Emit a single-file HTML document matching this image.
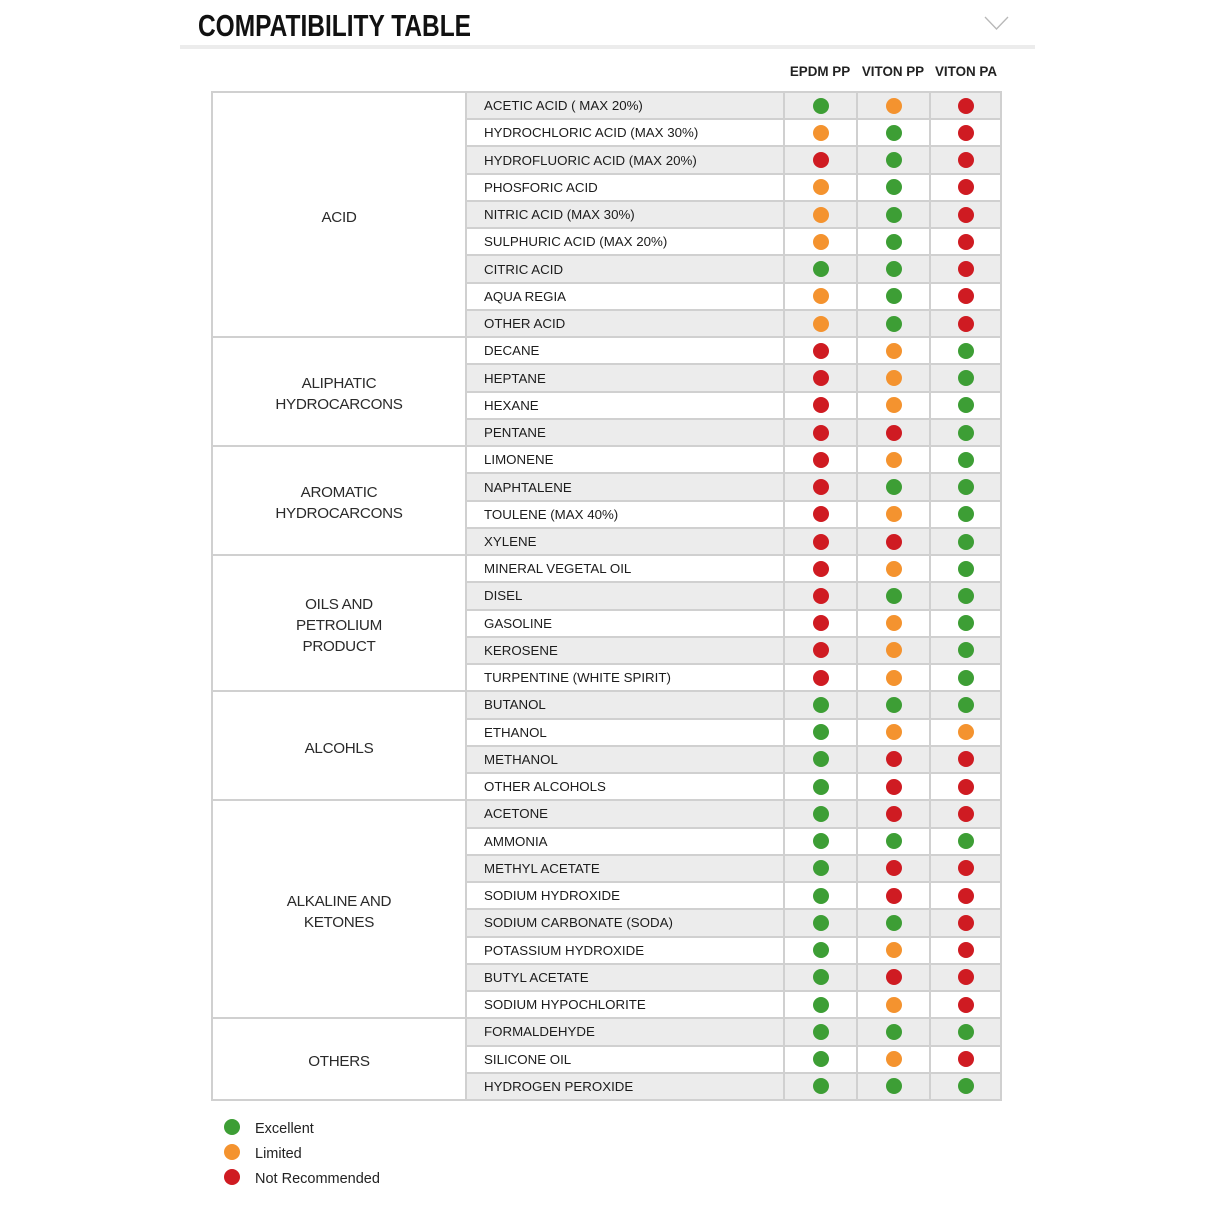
<!DOCTYPE html>
<html>
<head>
<meta charset="utf-8">
<style>
  html,body{margin:0;padding:0;background:#fff;}
  body{width:1214px;height:1214px;position:relative;overflow:hidden;font-family:"Liberation Sans",Arial,sans-serif;color:#222;}
  .title{position:absolute;left:198px;top:8px;font-size:31px;font-weight:bold;color:#111;transform:scaleX(0.79);transform-origin:0 0;white-space:nowrap;letter-spacing:0;}
  .hline{position:absolute;left:180px;top:45px;width:855px;height:4px;background:#ececec;}
  .chev{position:absolute;left:0;top:0;}
  .ch{position:absolute;top:64px;font-size:13.4px;font-weight:bold;color:#222;width:80px;text-align:center;line-height:16px;}
  .grid{position:absolute;left:211px;top:91px;width:791px;height:1010px;box-sizing:border-box;padding:2px;background:#d0d0d0;display:grid;grid-template-columns:252px 316px 71px 71px 69px;grid-template-rows:repeat(37,1fr);gap:2px;}
  .grid>div{background:#fff;display:flex;align-items:center;}
  .grid>div.g{background:#ececec;}
  .c{grid-column:1;justify-content:center;text-align:center;font-size:15.2px;letter-spacing:-0.3px;line-height:21px;color:#2a2a2a;padding-top:5px;box-sizing:border-box;}
  .n{padding-left:17px;font-size:13.3px;color:#1c1c1c;white-space:nowrap;}
  .d{justify-content:center;}
  .d i{display:block;width:16px;height:16px;border-radius:50%;}
  i.G{background:#3d9e35;}
  i.O{background:#f4932f;}
  i.R{background:#cf1b22;}
  .leg{position:absolute;left:224px;width:16px;height:16px;border-radius:50%;}
  .lt{position:absolute;left:255px;font-size:14.5px;color:#222;line-height:18px;}
</style>
</head>
<body>
<div class="title">COMPATIBILITY TABLE</div>
<div class="hline"></div>
<svg class="chev" width="1214" height="60"><polyline points="985,17 996.5,29 1008,17" fill="none" stroke="#b8b8b8" stroke-width="1.3"/></svg>
<div class="ch" style="left:780px;">EPDM PP</div>
<div class="ch" style="left:853px;">VITON PP</div>
<div class="ch" style="left:926px;">VITON PA</div>

<div class="grid">
  <div class="c" style="grid-row:1/span 9;">ACID</div>
  <div class="c" style="grid-row:10/span 4;">ALIPHATIC<br>HYDROCARCONS</div>
  <div class="c" style="grid-row:14/span 4;">AROMATIC<br>HYDROCARCONS</div>
  <div class="c" style="grid-row:18/span 5;">OILS AND<br>PETROLIUM<br>PRODUCT</div>
  <div class="c" style="grid-row:23/span 4;">ALCOHLS</div>
  <div class="c" style="grid-row:27/span 8;">ALKALINE AND<br>KETONES</div>
  <div class="c" style="grid-row:35/span 3;">OTHERS</div>

  <div class="n g">ACETIC ACID ( MAX 20%)</div><div class="d g"><i class="G"></i></div><div class="d g"><i class="O"></i></div><div class="d g"><i class="R"></i></div>
  <div class="n">HYDROCHLORIC ACID (MAX 30%)</div><div class="d"><i class="O"></i></div><div class="d"><i class="G"></i></div><div class="d"><i class="R"></i></div>
  <div class="n g">HYDROFLUORIC ACID (MAX 20%)</div><div class="d g"><i class="R"></i></div><div class="d g"><i class="G"></i></div><div class="d g"><i class="R"></i></div>
  <div class="n">PHOSFORIC ACID</div><div class="d"><i class="O"></i></div><div class="d"><i class="G"></i></div><div class="d"><i class="R"></i></div>
  <div class="n g">NITRIC ACID (MAX 30%)</div><div class="d g"><i class="O"></i></div><div class="d g"><i class="G"></i></div><div class="d g"><i class="R"></i></div>
  <div class="n">SULPHURIC ACID (MAX 20%)</div><div class="d"><i class="O"></i></div><div class="d"><i class="G"></i></div><div class="d"><i class="R"></i></div>
  <div class="n g">CITRIC ACID</div><div class="d g"><i class="G"></i></div><div class="d g"><i class="G"></i></div><div class="d g"><i class="R"></i></div>
  <div class="n">AQUA REGIA</div><div class="d"><i class="O"></i></div><div class="d"><i class="G"></i></div><div class="d"><i class="R"></i></div>
  <div class="n g">OTHER ACID</div><div class="d g"><i class="O"></i></div><div class="d g"><i class="G"></i></div><div class="d g"><i class="R"></i></div>
  <div class="n">DECANE</div><div class="d"><i class="R"></i></div><div class="d"><i class="O"></i></div><div class="d"><i class="G"></i></div>
  <div class="n g">HEPTANE</div><div class="d g"><i class="R"></i></div><div class="d g"><i class="O"></i></div><div class="d g"><i class="G"></i></div>
  <div class="n">HEXANE</div><div class="d"><i class="R"></i></div><div class="d"><i class="O"></i></div><div class="d"><i class="G"></i></div>
  <div class="n g">PENTANE</div><div class="d g"><i class="R"></i></div><div class="d g"><i class="R"></i></div><div class="d g"><i class="G"></i></div>
  <div class="n">LIMONENE</div><div class="d"><i class="R"></i></div><div class="d"><i class="O"></i></div><div class="d"><i class="G"></i></div>
  <div class="n g">NAPHTALENE</div><div class="d g"><i class="R"></i></div><div class="d g"><i class="G"></i></div><div class="d g"><i class="G"></i></div>
  <div class="n">TOULENE (MAX 40%)</div><div class="d"><i class="R"></i></div><div class="d"><i class="O"></i></div><div class="d"><i class="G"></i></div>
  <div class="n g">XYLENE</div><div class="d g"><i class="R"></i></div><div class="d g"><i class="R"></i></div><div class="d g"><i class="G"></i></div>
  <div class="n">MINERAL VEGETAL OIL</div><div class="d"><i class="R"></i></div><div class="d"><i class="O"></i></div><div class="d"><i class="G"></i></div>
  <div class="n g">DISEL</div><div class="d g"><i class="R"></i></div><div class="d g"><i class="G"></i></div><div class="d g"><i class="G"></i></div>
  <div class="n">GASOLINE</div><div class="d"><i class="R"></i></div><div class="d"><i class="O"></i></div><div class="d"><i class="G"></i></div>
  <div class="n g">KEROSENE</div><div class="d g"><i class="R"></i></div><div class="d g"><i class="O"></i></div><div class="d g"><i class="G"></i></div>
  <div class="n">TURPENTINE (WHITE SPIRIT)</div><div class="d"><i class="R"></i></div><div class="d"><i class="O"></i></div><div class="d"><i class="G"></i></div>
  <div class="n g">BUTANOL</div><div class="d g"><i class="G"></i></div><div class="d g"><i class="G"></i></div><div class="d g"><i class="G"></i></div>
  <div class="n">ETHANOL</div><div class="d"><i class="G"></i></div><div class="d"><i class="O"></i></div><div class="d"><i class="O"></i></div>
  <div class="n g">METHANOL</div><div class="d g"><i class="G"></i></div><div class="d g"><i class="R"></i></div><div class="d g"><i class="R"></i></div>
  <div class="n">OTHER ALCOHOLS</div><div class="d"><i class="G"></i></div><div class="d"><i class="R"></i></div><div class="d"><i class="R"></i></div>
  <div class="n g">ACETONE</div><div class="d g"><i class="G"></i></div><div class="d g"><i class="R"></i></div><div class="d g"><i class="R"></i></div>
  <div class="n">AMMONIA</div><div class="d"><i class="G"></i></div><div class="d"><i class="G"></i></div><div class="d"><i class="G"></i></div>
  <div class="n g">METHYL ACETATE</div><div class="d g"><i class="G"></i></div><div class="d g"><i class="R"></i></div><div class="d g"><i class="R"></i></div>
  <div class="n">SODIUM HYDROXIDE</div><div class="d"><i class="G"></i></div><div class="d"><i class="R"></i></div><div class="d"><i class="R"></i></div>
  <div class="n g">SODIUM CARBONATE (SODA)</div><div class="d g"><i class="G"></i></div><div class="d g"><i class="G"></i></div><div class="d g"><i class="R"></i></div>
  <div class="n">POTASSIUM HYDROXIDE</div><div class="d"><i class="G"></i></div><div class="d"><i class="O"></i></div><div class="d"><i class="R"></i></div>
  <div class="n g">BUTYL ACETATE</div><div class="d g"><i class="G"></i></div><div class="d g"><i class="R"></i></div><div class="d g"><i class="R"></i></div>
  <div class="n">SODIUM HYPOCHLORITE</div><div class="d"><i class="G"></i></div><div class="d"><i class="O"></i></div><div class="d"><i class="R"></i></div>
  <div class="n g">FORMALDEHYDE</div><div class="d g"><i class="G"></i></div><div class="d g"><i class="G"></i></div><div class="d g"><i class="G"></i></div>
  <div class="n">SILICONE OIL</div><div class="d"><i class="G"></i></div><div class="d"><i class="O"></i></div><div class="d"><i class="R"></i></div>
  <div class="n g">HYDROGEN PEROXIDE</div><div class="d g"><i class="G"></i></div><div class="d g"><i class="G"></i></div><div class="d g"><i class="G"></i></div>
</div>

<div class="leg" style="top:1119px;background:#3d9e35;"></div>
<div class="lt" style="top:1120px;">Excellent</div>
<div class="leg" style="top:1144px;background:#f4932f;"></div>
<div class="lt" style="top:1145px;">Limited</div>
<div class="leg" style="top:1169px;background:#cf1b22;"></div>
<div class="lt" style="top:1170px;">Not Recommended</div>
</body>
</html>
